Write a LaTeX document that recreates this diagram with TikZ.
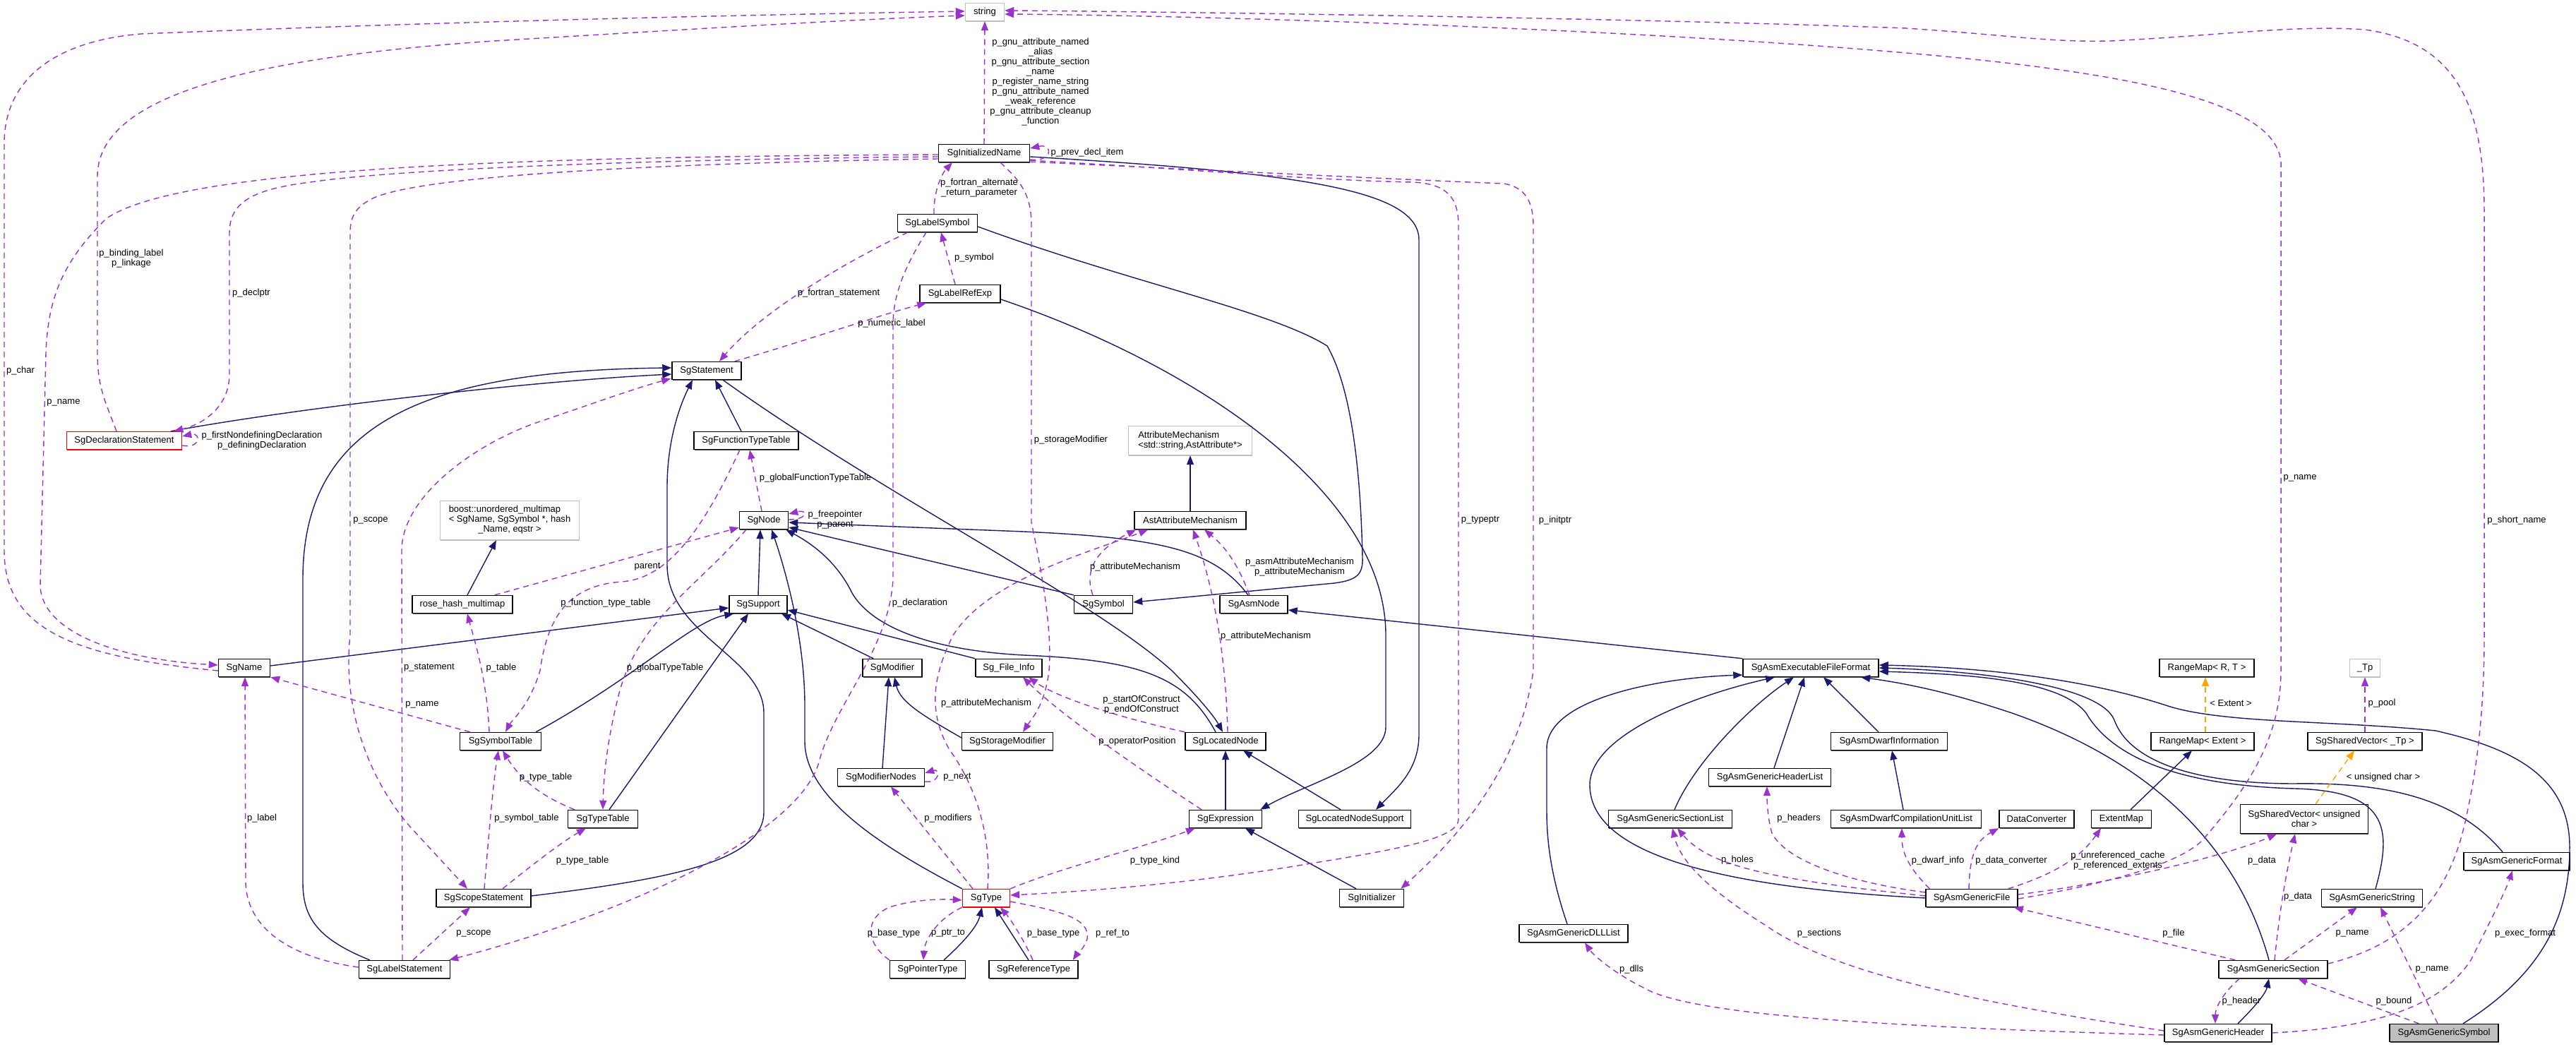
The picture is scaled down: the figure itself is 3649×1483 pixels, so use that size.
\documentclass[tikz,border=0pt]{standalone}
\usepackage{fontspec}
\newfontfamily\dgsans{Liberation Sans}
\usetikzlibrary{calc,arrows.meta,shadows}
\definecolor{navy}{HTML}{191970}
\definecolor{usep}{HTML}{9A32CD}
\definecolor{tmplo}{HTML}{FFA500}
\definecolor{boxgray}{HTML}{BFBFBF}
\newcommand\dgf{\dgsans\fontsize{3.7pt}{4.0pt}\selectfont}
\begin{document}
\begin{tikzpicture}[x=0.01cm,y=-0.01cm,
  dbox/.style={draw=black, fill=white, line width=0.4pt, inner xsep=0.05cm, inner ysep=0pt, minimum height=0.25cm, font=\dgf,
    drop shadow={shadow xshift=0.008cm, shadow yshift=-0.014cm, fill=black!70, opacity=1}},
  dgbox/.style={dbox, draw=boxgray, drop shadow={shadow xshift=0.008cm, shadow yshift=-0.014cm, fill=boxgray, opacity=1}},
  drbox/.style={dbox, draw=red, drop shadow={shadow xshift=0.008cm, shadow yshift=-0.014cm, fill=red, opacity=1}},
  lbl/.style={font=\dgf, inner sep=0pt, align=center},
  inhE/.style={draw=navy, line width=0.4pt, -{Triangle[length=0.13cm,width=0.1cm]}},
  useE/.style={draw=usep, line width=0.4pt, dash pattern=on 0.08cm off 0.06cm, -{Triangle[length=0.13cm,width=0.1cm]}},
  tmplE/.style={draw=tmplo, line width=0.4pt, dash pattern=on 0.08cm off 0.06cm, -{Triangle[length=0.13cm,width=0.1cm]}}]
\useasboundingbox[fill=white] (0,0) rectangle (3649,1483);

% ---------------- nodes ----------------
\node[dgbox, minimum width=0.55cm] (string) at (1395,17) {string};
\node[dbox, minimum width=1.29cm] (initname) at (1394,217) {SgInitializedName};
\node[dbox, minimum width=1.13cm] (labelsym) at (1328,316) {SgLabelSymbol};
\node[dbox, minimum width=1.14cm] (labelref) at (1360,416) {SgLabelRefExp};
\node[dbox, minimum width=0.98cm] (stmt) at (1001,525) {SgStatement};
\node[drbox, minimum width=1.63cm] (declstmt) at (176,624) {SgDeclarationStatement};
\node[dbox, minimum width=1.48cm] (functt) at (1057,624) {SgFunctionTypeTable};
\node[dgbox, minimum width=1.75cm, minimum height=0.41cm, align=left] (attrmech) at (1686,624) {AttributeMechanism\\<std::string,AstAttribute*>};
\node[dgbox, minimum width=1.97cm, minimum height=0.55cm] (boost) at (722,737) {\begin{tabular}{@{}l@{}}boost::unordered\_multimap\\< SgName, SgSymbol *, hash\\\multicolumn{1}{@{}c@{}}{\_Name, eqstr >}\end{tabular}};
\node[dbox, minimum width=0.69cm] (sgnode) at (1082,737) {SgNode};
\node[dbox, minimum width=1.58cm] (astattr) at (1686,737) {AstAttributeMechanism};
\node[dbox, minimum width=1.42cm] (rosehash) at (655,856) {rose\_hash\_multimap};
\node[dbox, minimum width=0.82cm] (support) at (1074,856) {SgSupport};
\node[dbox, minimum width=0.83cm] (symbol) at (1563,856) {SgSymbol};
\node[dbox, minimum width=0.96cm] (asmnode) at (1776,856) {SgAsmNode};
\node[dbox, minimum width=0.73cm] (sgname) at (346,946) {SgName};
\node[dbox, minimum width=0.84cm] (modifier) at (1264,946) {SgModifier};
\node[dbox, minimum width=0.94cm] (fileinfo) at (1429,946) {Sg\_File\_Info};
\node[dbox, minimum width=1.92cm] (execff) at (2565,946) {SgAsmExecutableFileFormat};
\node[dbox, minimum width=1.34cm] (rangeRT) at (3126,946) {RangeMap< R, T >};
\node[dgbox, minimum width=0.43cm] (tp) at (3350,946) {\_Tp};
\node[dbox, minimum width=1.15cm] (symtab) at (709,1050) {SgSymbolTable};
\node[dbox, minimum width=1.29cm] (storagemod) at (1427,1050) {SgStorageModifier};
\node[dbox, minimum width=1.14cm] (locnode) at (1736,1050) {SgLocatedNode};
\node[dbox, minimum width=1.65cm] (dwarfinfo) at (2676,1050) {SgAsmDwarfInformation};
\node[dbox, minimum width=1.46cm] (rangeExt) at (3120,1050) {RangeMap< Extent >};
\node[dbox, minimum width=1.62cm] (shvecTp) at (3350,1050) {SgSharedVector< \_Tp >};
\node[dbox, minimum width=1.23cm] (modnodes) at (1248,1101) {SgModifierNodes};
\node[dbox, minimum width=1.73cm] (headerlist) at (2507,1101) {SgAsmGenericHeaderList};
\node[dbox, minimum width=0.99cm] (typetable) at (854,1160) {SgTypeTable};
\node[dbox, minimum width=1.03cm] (expr) at (1736,1160) {SgExpression};
\node[dbox, minimum width=1.59cm] (locnodesup) at (1919,1160) {SgLocatedNodeSupport};
\node[dbox, minimum width=1.75cm] (sectionlist) at (2366,1160) {SgAsmGenericSectionList};
\node[dbox, minimum width=2.13cm] (dwarfcu) at (2700,1160) {SgAsmDwarfCompilationUnitList};
\node[dbox, minimum width=1.06cm] (dataconv) at (2885,1160) {DataConverter};
\node[dbox, minimum width=0.85cm] (extentmap) at (3005,1160) {ExtentMap};
\node[dbox, minimum width=1.81cm, minimum height=0.41cm, align=center] (shvecUC) at (3264,1160) {SgSharedVector< unsigned\\char >};
\node[dbox, minimum width=1.50cm] (genformat) at (3565,1220) {SgAsmGenericFormat};
\node[dbox, minimum width=1.34cm] (scopestmt) at (685,1272) {SgScopeStatement};
\node[drbox, minimum width=0.67cm] (sgtype) at (1397,1272) {SgType};
\node[dbox, minimum width=0.91cm] (initializer) at (1943,1272) {SgInitializer};
\node[dbox, minimum width=1.30cm] (genfile) at (2793,1272) {SgAsmGenericFile};
\node[dbox, minimum width=1.43cm] (genstring) at (3360,1272) {SgAsmGenericString};
\node[dbox, minimum width=1.54cm] (dlllist) at (2229,1322) {SgAsmGenericDLLList};
\node[dbox, minimum width=1.29cm] (labelstmt) at (573,1373) {SgLabelStatement};
\node[dbox, minimum width=1.07cm] (ptrtype) at (1314,1373) {SgPointerType};
\node[dbox, minimum width=1.26cm] (reftype) at (1464,1373) {SgReferenceType};
\node[dbox, minimum width=1.54cm] (gensection) at (3220,1373) {SgAsmGenericSection};
\node[dbox, minimum width=1.52cm] (genheader) at (3142,1463) {SgAsmGenericHeader};
\node[dbox, fill=boxgray, minimum width=1.54cm] (gensymbol) at (3462,1463) {SgAsmGenericSymbol};

% ---------------- inheritance ----------------
\draw[inhE] ($(declstmt.north east)+(-16,0)$) .. controls (420,578) and (750,540) .. ($(stmt.west)+(0,5)$);
\draw[inhE] ($(labelstmt.north west)+(16,0)$) .. controls (450,1330) and (429,1300) .. (429,1250) -- (429,820) .. controls (429,600) and (600,525) .. ($(stmt.west)+(0,-4)$);
\draw[inhE] ($(scopestmt.east)+(0,-3)$) .. controls (950,1245) and (1082,1220) .. (1082,1150) -- (1082,1010) .. controls (1082,930) and (945,900) .. (945,800) -- (945,690) .. controls (945,620) and (965,570) .. ($(stmt.south)+(-20,0)$);
\draw[inhE] ($(functt.north)+(-7,0)$) -- ($(stmt.south)+(12,0)$);
\draw[inhE] ($(stmt.south)+(23,0)$) .. controls (1250,700) and (1550,850) .. (1660,950) .. controls (1700,990) and (1720,1015) .. ($(locnode.north)+(-4,0)$);
\draw[inhE] ($(locnode.north)+(-14,0)$) .. controls (1680,960) and (1620,935) .. (1450,928) .. controls (1300,920) and (1230,880) .. (1207,840) .. controls (1185,795) and (1150,770) .. ($(sgnode.south east)+(-4,0)$);
\draw[inhE] (sgtype.north west) .. controls (1250,1200) and (1140,1130) .. (1140,1050) -- (1140,1000) .. controls (1140,900) and (1110,800) .. ($(sgnode.south)+(11,0)$);
\draw[inhE] (support.north) -- ($(sgnode.south)+(-5,0)$);
\draw[inhE] (symbol.north west) -- ($(sgnode.east)+(0,10)$);
\draw[inhE] ($(asmnode.north)+(-8,0)$) .. controls (1720,780) and (1650,762) .. (1450,753) -- ($(sgnode.east)+(0,3)$);
\draw[inhE] ($(symtab.north east)+(-8,0)$) .. controls (900,960) and (980,880) .. ($(support.south west)+(7,0)$);
\draw[inhE] ($(typetable.north)+(9,0)$) -- ($(support.south)+(-14,0)$);
\draw[inhE] ($(sgname.east)+(0,-3)$) -- ($(support.west)+(0,5)$);
\draw[inhE] ($(modifier.north west)+(16,0)$) -- ($(support.south)+(33,0)$);
\draw[inhE] (fileinfo.north west) -- ($(support.east)+(0,8)$);
\draw[inhE] ($(storagemod.west)+(0,-5)$) .. controls (1310,1015) and (1275,995) .. ($(modifier.south)+(3,0)$);
\draw[inhE] ($(modnodes.north)+(2,0)$) -- ($(modifier.south)+(-5,0)$);
\draw[inhE] ($(rosehash.north)+(7,0)$) -- ($(boost.south)+(-19,0)$);
\draw[inhE] (astattr.north) -- (attrmech.south);
\draw[inhE] (expr.north) -- (locnode.south);
\draw[inhE] ($(locnodesup.north)+(-20,0)$) -- ($(locnode.south)+(25,0)$);
\draw[inhE] ($(initializer.north)+(-22,0)$) -- ($(expr.south)+(28,0)$);
\draw[inhE] ($(ptrtype.north)+(23,0)$) .. controls (1370,1330) and (1385,1310) .. ($(sgtype.south)+(-6,0)$);
\draw[inhE] ($(reftype.north)+(-7,0)$) -- ($(sgtype.south)+(12,0)$);
\draw[inhE] ($(labelsym.east)+(0,5)$) .. controls (1600,400) and (1800,440) .. (1880,490) .. controls (1920,560) and (1928,700) .. (1930,790) .. controls (1931,815) and (1920,822) .. (1890,826) -- ($(symbol.east)+(0,-3)$);
\draw[inhE] ($(labelref.east)+(0,8)$) .. controls (1700,520) and (1963,700) .. (1963,900) -- (1963,1030) .. controls (1963,1080) and (1850,1110) .. ($(expr.north east)+(-3,0)$);
\draw[inhE] ($(initname.east)+(0,5)$) .. controls (1850,245) and (2010,270) .. (2010,340) -- (2010,1040) .. controls (2010,1090) and (1980,1115) .. ($(locnodesup.north)+(30,0)$);
\draw[inhE] (execff.north west) -- ($(asmnode.east)+(0,8)$);
\draw[inhE] ($(dlllist.north)+(-9,0)$) .. controls (2200,1250) and (2191,1200) .. (2191,1150) -- (2191,1060) .. controls (2191,990) and (2350,960) .. ($(execff.west)+(0,10)$);
\draw[inhE] (genfile.west) .. controls (2400,1255) and (2250,1200) .. (2252,1110) .. controls (2255,1040) and (2400,985) .. ($(execff.south)+(-51,0)$);
\draw[inhE] ($(sectionlist.north)+(6,0)$) .. controls (2400,1080) and (2480,1000) .. ($(execff.south)+(-24,0)$);
\draw[inhE] ($(headerlist.north)+(6,0)$) -- ($(execff.south)+(-9,0)$);
\draw[inhE] ($(dwarfinfo.north)+(-15,0)$) -- ($(execff.south)+(18,0)$);
\draw[inhE] ($(gensection.north)+(-6,0)$) .. controls (3170,1200) and (3050,1080) .. (2850,1010) .. controls (2760,980) and (2700,968) .. ($(execff.south)+(71,0)$);
\draw[inhE] ($(genstring.north)+(5,0)$) .. controls (3390,1170) and (3380,1120) .. (3250,1117) .. controls (3080,1112) and (2990,1070) .. (2955,1010) .. controls (2920,965) and (2800,955) .. ($(execff.east)+(0,5)$);
\draw[inhE] ($(genformat.north)+(-20,0)$) .. controls (3480,1130) and (3380,1108) .. (3250,1110) .. controls (3100,1110) and (3015,1075) .. (2995,1020) .. controls (2975,970) and (2800,950) .. (execff.east);
\draw[inhE] ($(gensymbol.north)+(27,0)$) .. controls (3600,1380) and (3640,1300) .. (3640,1200) .. controls (3640,1100) and (3560,1060) .. (3450,1035) .. controls (3300,1020) and (3150,1025) .. (3071,1000) .. controls (2950,960) and (2800,945) .. ($(execff.east)+(0,-4)$);
\draw[inhE] ($(genheader.north)+(28,0)$) .. controls (3200,1420) and (3210,1405) .. ($(gensection.south)+(-6,0)$);
\draw[inhE] ($(extentmap.north)+(13,0)$) -- ($(rangeExt.south)+(-15,0)$);
\draw[inhE] ($(dwarfcu.north)+(-4,0)$) -- ($(dwarfinfo.south)+(4,0)$);

% ---------------- templates ----------------
\draw[tmplE] ($(rangeExt.north)+(4,0)$) -- ($(rangeRT.south)+(-2,0)$);
\draw[tmplE] ($(shvecUC.north)+(16,0)$) -- ($(shvecTp.south)+(-15,0)$);

% ---------------- usage ----------------
\draw[useE] (initname.north) -- (string.south);
\draw[useE] ($(initname.east)+(0,9)$) .. controls (1492,230) and (1492,203) .. ($(initname.east)+(0,-7)$);
\draw[useE] ($(labelsym.north)+(-5,0)$) .. controls (1322,270) and (1335,245) .. ($(initname.south)+(-45,0)$);
\draw[useE] ($(labelref.north)+(-7,0)$) -- ($(labelsym.south)+(5,0)$);
\draw[useE] ($(labelsym.south west)+(15,0)$) .. controls (1200,370) and (1080,440) .. ($(stmt.north)+(18,0)$);
\draw[useE] ($(stmt.north east)+(-10,0)$) .. controls (1150,480) and (1250,445) .. ($(labelref.south west)+(10,0)$);
\draw[useE] ($(declstmt.north)+(-11,0)$) .. controls (150,570) and (138,550) .. (138,500) -- (138,250) .. controls (138,150) and (300,85) .. (700,58) .. controls (1000,40) and (1200,28) .. ($(string.west)+(0,5)$);
\draw[useE] ($(sgname.west)+(0,4)$) .. controls (100,930) and (6,890) .. (6,780) -- (6,200) .. controls (8,110) and (80,58) .. (200,48) .. controls (600,32) and (1000,22) .. ($(string.west)+(0,-1)$);
\draw[useE] ($(initname.west)+(0,2)$) .. controls (700,222) and (250,240) .. (150,310) .. controls (90,370) and (68,420) .. (65,500) -- (57,830) .. controls (60,900) and (180,935) .. ($(sgname.west)+(0,-4)$);
\draw[useE] ($(initname.west)+(0,5)$) .. controls (900,226) and (560,240) .. (440,258) .. controls (360,268) and (325,285) .. (325,330) -- (325,530) .. controls (325,575) and (290,600) .. ($(declstmt.north east)+(-12,0)$);
\draw[useE] ($(initname.west)+(0,8)$) .. controls (900,232) and (600,250) .. (530,280) .. controls (505,292) and (496,305) .. (496,330) -- (496,900) .. controls (485,1000) and (520,1100) .. (580,1170) -- ($(scopestmt.north)+(-23,0)$);
\draw[useE] ($(initname.south)+(23,0)$) .. controls (1450,260) and (1461,280) .. (1461,320) -- (1461,740) .. controls (1480,830) and (1490,900) .. (1486,950) .. controls (1480,1000) and (1460,1020) .. ($(storagemod.north)+(22,0)$);
\draw[useE] ($(initname.south east)+(0,-3)$) .. controls (1700,240) and (1850,255) .. (2000,258) .. controls (2050,260) and (2066,280) .. (2066,320) -- (2066,1160) .. controls (2066,1185) and (2000,1200) .. (1863,1222) .. controls (1700,1250) and (1550,1262) .. ($(sgtype.east)+(0,-4)$);
\draw[useE] ($(initname.south east)+(0,-1)$) .. controls (1800,245) and (2000,255) .. (2130,260) .. controls (2160,265) and (2172,285) .. (2172,320) -- (2172,950) .. controls (2150,1100) and (2050,1200) .. ($(initializer.north east)+(-5,0)$);
\draw[useE] ($(labelsym.south)+(-16,0)$) .. controls (1280,380) and (1265,420) .. (1265,460) -- (1265,820) .. controls (1260,920) and (1180,1000) .. (1160,1080) .. controls (1130,1180) and (900,1290) .. ($(labelstmt.north east)+(-2,0)$);
\draw[useE] ($(labelstmt.north)+(-3,0)$) -- (569,780) .. controls (569,700) and (680,625) .. (765,597) .. controls (850,568) and (900,550) .. ($(stmt.south west)+(-1,-2)$);
\draw[useE] ($(labelstmt.west)+(0,-3)$) .. controls (420,1358) and (350,1320) .. (348,1250) -- ($(sgname.south)+(1,0)$);
\draw[useE] ($(labelstmt.north)+(12,0)$) -- ($(scopestmt.south)+(-19,0)$);
\draw[useE] ($(scopestmt.north)+(1,0)$) .. controls (695,1150) and (700,1100) .. ($(symtab.south)+(-3,0)$);
\draw[useE] ($(scopestmt.north)+(27,0)$) .. controls (760,1220) and (800,1190) .. ($(typetable.south)+(-24,0)$);
\draw[useE] ($(typetable.north west)+(10,0)$) .. controls (760,1125) and (735,1100) .. ($(symtab.south)+(3,0)$);
\draw[useE] ($(symtab.north west)+(15,0)$) -- (sgname.south east);
\draw[useE] ($(symtab.north)+(-16,0)$) .. controls (690,960) and (670,900) .. ($(rosehash.south)+(7,0)$);
\draw[useE] ($(functt.south)+(-9,0)$) .. controls (1000,740) and (950,820) .. (880,824) .. controls (800,830) and (775,880) .. (765,950) .. controls (750,1000) and (725,1020) .. ($(symtab.north)+(7,0)$);
\draw[useE] ($(rosehash.north east)+(-26,0)$) -- ($(sgnode.south west)+(0,-3)$);
\draw[useE] ($(sgnode.north)+(-3,0)$) -- ($(functt.south)+(5,0)$);
\draw[useE] ($(sgnode.south)+(-25,0)$) .. controls (990,830) and (900,880) .. (875,990) .. controls (860,1050) and (855,1100) .. (typetable.north);
\draw[useE] ($(sgnode.east)+(0,-1)$) .. controls (1145,736) and (1145,721) .. ($(sgnode.east)+(0,-9)$);
\draw[useE] ($(symbol.north)+(-15,0)$) .. controls (1536,810) and (1550,780) .. ($(astattr.south west)+(3,0)$);
\draw[useE] ($(asmnode.north)+(-6,0)$) .. controls (1750,790) and (1730,770) .. ($(astattr.south)+(20,0)$);
\draw[useE] ($(locnode.north)+(3,0)$) .. controls (1737,950) and (1725,850) .. ($(astattr.south)+(4,0)$);
\draw[useE] ($(sgtype.north)+(2,0)$) .. controls (1405,1180) and (1380,1110) .. (1345,1062) .. controls (1315,1010) and (1320,960) .. (1350,900) .. controls (1400,820) and (1550,780) .. ($(astattr.south west)+(20,0)$);
\draw[useE] (locnode.north west) .. controls (1600,1020) and (1500,990) .. ($(fileinfo.south)+(28,0)$);
\draw[useE] ($(expr.north)+(-34,0)$) .. controls (1600,1080) and (1500,1010) .. ($(fileinfo.south)+(20,0)$);
\draw[useE] ($(modnodes.east)+(0,6)$) .. controls (1332,1110) and (1332,1088) .. ($(modnodes.east)+(0,-6)$);
\draw[useE] ($(sgtype.north)+(-19,0)$) -- ($(modnodes.south)+(14,0)$);
\draw[useE] (sgtype.north east) .. controls (1500,1230) and (1620,1200) .. ($(expr.south)+(-43,0)$);
\draw[useE] (ptrtype.north west) .. controls (1225,1335) and (1225,1300) .. (1260,1285) .. controls (1290,1275) and (1330,1273) .. ($(sgtype.west)+(0,3)$);
\draw[useE] (sgtype.south west) .. controls (1330,1300) and (1310,1330) .. ($(ptrtype.north)+(-6,0)$);
\draw[useE] ($(reftype.north)+(-1,0)$) .. controls (1450,1330) and (1430,1300) .. ($(sgtype.south)+(20,0)$);
\draw[useE] ($(sgtype.east)+(0,5)$) .. controls (1500,1290) and (1545,1300) .. (1540,1330) .. controls (1535,1345) and (1525,1352) .. ($(reftype.north east)+(-8,0)$);
\draw[useE] ($(declstmt.east)+(0,7)$) .. controls (285,636) and (285,612) .. ($(declstmt.east)+(0,-6)$);
% asm usage
\draw[useE] ($(genfile.west)+(0,-3)$) .. controls (2500,1245) and (2420,1225) .. ($(sectionlist.south)+(10,0)$);
\draw[useE] ($(genheader.west)+(0,-3)$) .. controls (2800,1420) and (2600,1380) .. (2500,1310) .. controls (2420,1260) and (2380,1220) .. ($(sectionlist.south)+(3,0)$);
\draw[useE] ($(genheader.west)+(0,3)$) .. controls (2700,1455) and (2400,1440) .. (2330,1400) .. controls (2280,1375) and (2255,1350) .. ($(dlllist.south)+(16,0)$);
\draw[useE] ($(genfile.west)+(0,-8)$) .. controls (2620,1250) and (2530,1220) .. (2510,1180) .. controls (2504,1160) and (2503,1135) .. ($(headerlist.south)+(-4,0)$);
\draw[useE] ($(genfile.north west)+(6,0)$) .. controls (2705,1230) and (2694,1210) .. ($(dwarfcu.south)+(-6,0)$);
\draw[useE] ($(genfile.north)+(-4,0)$) .. controls (2790,1210) and (2800,1190) .. (dataconv.south west);
\draw[useE] ($(genfile.north east)+(-14,0)$) .. controls (2920,1235) and (2950,1210) .. ($(extentmap.south)+(-29,0)$);
\draw[useE] ($(genfile.east)+(0,-5)$) .. controls (3000,1250) and (3160,1210) .. ($(shvecUC.south)+(-39,0)$);
\draw[useE] ($(gensection.north)+(2,0)$) .. controls (3230,1280) and (3240,1230) .. ($(shvecUC.south)+(-13,0)$);
\draw[useE] ($(gensection.north west)+(24,0)$) -- ($(genfile.south east)+(-6,0)$);
\draw[useE] ($(gensection.north)+(16,0)$) -- ($(genstring.south)+(-21,0)$);
\draw[useE] ($(gensymbol.north)+(-9,0)$) -- ($(genstring.south)+(12,0)$);
\draw[useE] ($(gensection.south west)+(30,0)$) .. controls (3145,1410) and (3138,1430) .. ($(genheader.north)+(-4,0)$);
\draw[useE] ($(gensymbol.north west)+(42,0)$) -- ($(gensection.south)+(35,0)$);
\draw[useE] (genheader.east) .. controls (3380,1455) and (3460,1420) .. (3500,1360) .. controls (3530,1300) and (3550,1260) .. ($(genformat.south)+(-6,0)$);
\draw[useE] ($(gensection.east)+(0,-8)$) .. controls (3400,1340) and (3470,1280) .. (3495,1150) .. controls (3510,1080) and (3519,1000) .. (3519,900) -- (3519,300) .. controls (3519,150) and (3480,60) .. (3350,42) .. controls (3250,35) and (3150,50) .. (2990,58) .. controls (2900,60) and (2850,50) .. (2700,40) .. controls (2300,25) and (1600,16) .. ($(string.east)+(0,-2)$);
\draw[useE] ($(genfile.east)+(0,1)$) .. controls (2950,1258) and (3080,1230) .. (3120,1190) .. controls (3180,1120) and (3231,1050) .. (3231,950) -- (3231,230) .. controls (3225,150) and (3050,105) .. (2700,75) .. controls (2300,40) and (1700,22) .. ($(string.east)+(0,3)$);
\draw[useE] (shvecTp.north) -- (tp.south);

% ---------------- labels ----------------
\node[lbl] (lgnu) at (1474,116) {p\_gnu\_attribute\_named\\\_alias\\p\_gnu\_attribute\_section\\\_name\\p\_register\_name\_string\\p\_gnu\_attribute\_named\\\_weak\_reference\\p\_gnu\_attribute\_cleanup\\\_function};
\node[lbl] (lprev) at (1540,216) {p\_prev\_decl\_item};
\node[lbl] (lfalt) at (1387,266) {p\_fortran\_alternate\\\_return\_parameter};
\node[lbl] (lsym) at (1380,365) {p\_symbol};
\node[lbl] (lfstmt) at (1188,415) {p\_fortran\_statement};
\node[lbl] (lnum) at (1263,458) {p\_numeric\_label};
\node[lbl] (lbind) at (186,366) {p\_binding\_label\\p\_linkage};
\node[lbl] (ldeclptr) at (356,415) {p\_declptr};
\node[lbl] (lchar) at (29,525) {p\_char};
\node[lbl] (lname1) at (90,570) {p\_name};
\node[lbl] (lscope1) at (525,737) {p\_scope};
\node[lbl] (lstor) at (1517,623) {p\_storageModifier};
\node[lbl] (ltypeptr) at (2097,737) {p\_typeptr};
\node[lbl] (linitptr) at (2203,737) {p\_initptr};
\node[lbl] (ldecl) at (1303,854) {p\_declaration};
\node[lbl] (lstmt) at (608,946) {p\_statement};
\node[lbl] (llabel) at (371,1159) {p\_label};
\node[lbl] (lscope2) at (671,1322) {p\_scope};
\node[lbl] (lsymtab) at (746,1159) {p\_symbol\_table};
\node[lbl] (ltt1) at (825,1219) {p\_type\_table};
\node[lbl] (ltt2) at (773,1101) {p\_type\_table};
\node[lbl] (lname2) at (598,998) {p\_name};
\node[lbl] (ltable) at (710,946) {p\_table};
\node[lbl] (lftt) at (858,854) {p\_function\_type\_table};
\node[lbl] (lparent) at (917,803) {parent};
\node[lbl] (lgftt) at (1155,677) {p\_globalFunctionTypeTable};
\node[lbl] (lgtt) at (942,946) {p\_globalTypeTable};
\node[lbl] (lfree) at (1183,736) {p\_freepointer\\p\_parent};
\node[lbl] (lam1) at (1608,803) {p\_attributeMechanism};
\node[lbl] (lam2) at (1841,803) {p\_asmAttributeMechanism\\p\_attributeMechanism};
\node[lbl] (lam3) at (1793,901) {p\_attributeMechanism};
\node[lbl] (lam4) at (1397,996) {p\_attributeMechanism};
\node[lbl] (lsoc) at (1617,998) {p\_startOfConstruct\\p\_endOfConstruct};
\node[lbl] (lopp) at (1611,1050) {p\_operatorPosition};
\node[lbl] (lnext) at (1356,1101) {p\_next};
\node[lbl] (lmods) at (1343,1159) {p\_modifiers};
\node[lbl] (ltk) at (1636,1219) {p\_type\_kind};
\node[lbl] (lbt1) at (1266,1322) {p\_base\_type};
\node[lbl] (lptr) at (1343,1322) {p\_ptr\_to};
\node[lbl] (lbt2) at (1492,1322) {p\_base\_type};
\node[lbl] (lref) at (1576,1322) {p\_ref\_to};
\node[lbl] (lfnd) at (371,624) {p\_firstNondefiningDeclaration\\p\_definingDeclaration};
\node[lbl] (lholes) at (2461,1218) {p\_holes};
\node[lbl] (lsect) at (2577,1322) {p\_sections};
\node[lbl] (ldlls) at (2311,1373) {p\_dlls};
\node[lbl] (lhead) at (2548,1159) {p\_headers};
\node[lbl] (ldwarf) at (2745,1219) {p\_dwarf\_info};
\node[lbl] (ldc) at (2849,1219) {p\_data\_converter};
\node[lbl] (lunref) at (3000,1219) {p\_unreferenced\_cache\\p\_referenced\_extents};
\node[lbl] (ldata1) at (3204,1219) {p\_data};
\node[lbl] (ldata2) at (3255,1270) {p\_data};
\node[lbl] (lfile) at (3079,1322) {p\_file};
\node[lbl] (lname3) at (3332,1322) {p\_name};
\node[lbl] (lname4) at (3445,1373) {p\_name};
\node[lbl] (lheader) at (3175,1418) {p\_header};
\node[lbl] (lbound) at (3391,1418) {p\_bound};
\node[lbl] (lexec) at (3577,1322) {p\_exec\_format};
\node[lbl] (lshort) at (3565,737) {p\_short\_name};
\node[lbl] (lname5) at (3258,677) {p\_name};
\node[lbl] (lext) at (3160,996) {< Extent >};
\node[lbl] (lpool) at (3374,996) {p\_pool};
\node[lbl] (luc) at (3376,1101) {< unsigned char >};
\end{tikzpicture}
\end{document}
